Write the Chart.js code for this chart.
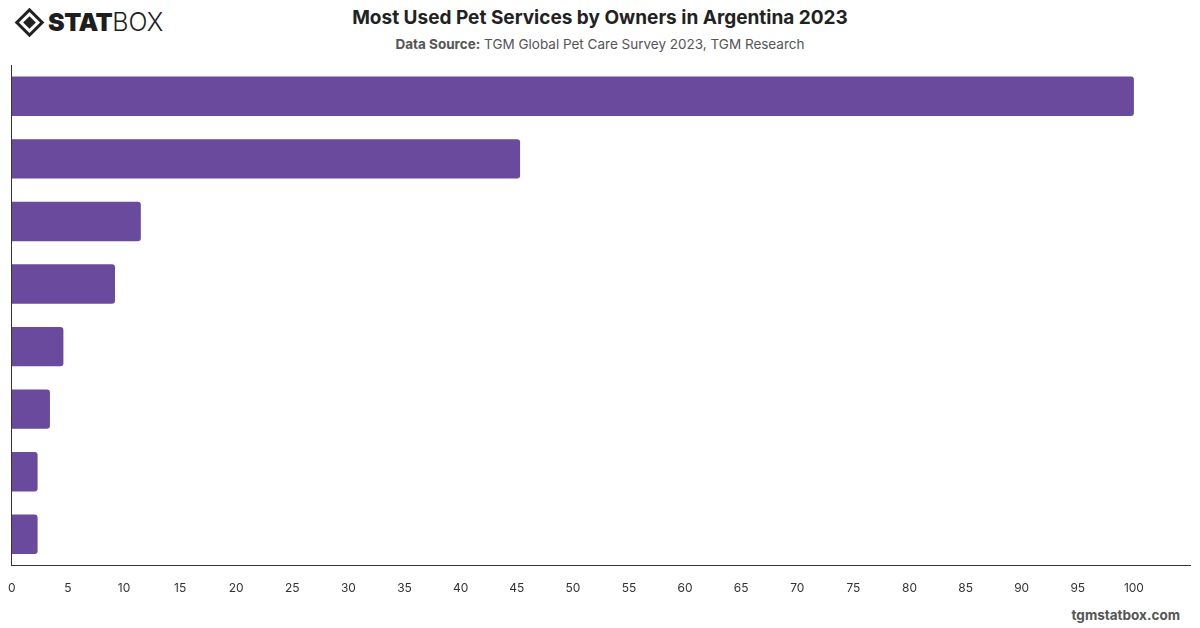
<!DOCTYPE html>
<html>
<head>
<meta charset="utf-8">
<script src="https://cdn.jsdelivr.net/npm/chart.js@4.4.0/dist/chart.umd.min.js"></script>
<style>
  html, body { margin: 0; padding: 0; background: #fff; }
  body { width: 1200px; height: 628px; position: relative; overflow: hidden; font-family: Inter, "Noto Sans", sans-serif; }
  #logo { position: absolute; left: 15px; top: 7px; height: 30px; display: flex; align-items: center; }
  #logo .icon { width: 15px; height: 15px; border: 3px solid #222; transform: rotate(45deg); margin: 0 8px 0 4px; position: relative; }
  #logo .icon::after { content: ""; position: absolute; left: 3px; top: 3px; width: 9px; height: 9px; background: #222; }
  #logo .stat { font-size: 25px; font-weight: 900; color: #1e1e1e; letter-spacing: -0.5px; }
  #logo .box { font-size: 25px; font-weight: 300; color: #1e1e1e; }
  #titulo { position: absolute; top: 6px; left: 0; width: 1200px; text-align: center; font-size: 19px; font-weight: 700; color: #222; }
  #fuente { position: absolute; top: 36px; left: 0; width: 1200px; text-align: center; font-size: 13.5px; color: #555; }
  #fuente b { font-weight: 700; }
  #pie { position: absolute; right: 20px; top: 607px; font-size: 13.5px; font-weight: 700; color: #555; }
  #grafico { position: absolute; left: 0; top: 0; }
</style>
</head>
<body>
<div id="logo"><div class="icon"></div><span class="stat">STAT</span><span class="box">BOX</span></div>
<div id="titulo">Most Used Pet Services by Owners in Argentina 2023</div>
<div id="fuente"><b>Data Source:</b> TGM Global Pet Care Survey 2023, TGM Research</div>
<div id="pie">tgmstatbox.com</div>
<canvas id="grafico" width="1200" height="628"></canvas>
<script>
const categorias = [
  "Veterinary services",
  "Pet grooming",
  "Pet training",
  "Pet boarding",
  "Pet insurance",
  "Dog walking",
  "Pet sitting",
  "Pet daycare"
];
const valores = [100, 45.3, 11.5, 9.2, 4.6, 3.4, 2.3, 2.3];
const ticksX = [0, 5, 10, 15, 20, 25, 30, 35, 40, 45, 50, 55, 60, 65, 70, 75, 80, 85, 90, 95, 100];

const ctx = document.getElementById("grafico");

new Chart(ctx, {
  type: "bar",
  data: {
    labels: categorias,
    datasets: [{
      label: "Share of owners",
      data: valores,
      backgroundColor: "#6a4a9c",
      borderRadius: { topRight: 3, bottomRight: 3 },
      borderSkipped: "start",
      barPercentage: 0.7,
      categoryPercentage: 0.9
    }]
  },
  options: {
    indexAxis: "y",
    responsive: false,
    animation: false,
    layout: { padding: { top: 65, left: 1, right: 10, bottom: 24 } },
    plugins: {
      legend: { display: false },
      tooltip: { enabled: false }
    },
    scales: {
      x: {
        min: 0,
        max: 105,
        afterBuildTicks: axis => {
          axis.ticks = ticksX.map(v => ({ value: v }));
        },
        grid: { display: false },
        border: { display: true, color: "#333", width: 1 },
        ticks: {
          color: "#333",
          padding: 8,
          font: { family: "Inter", size: 12 }
        }
      },
      y: {
        grid: { display: false },
        border: { display: true, color: "#333", width: 1 },
        ticks: { display: false }
      }
    }
  }
});
</script>
</body>
</html>
